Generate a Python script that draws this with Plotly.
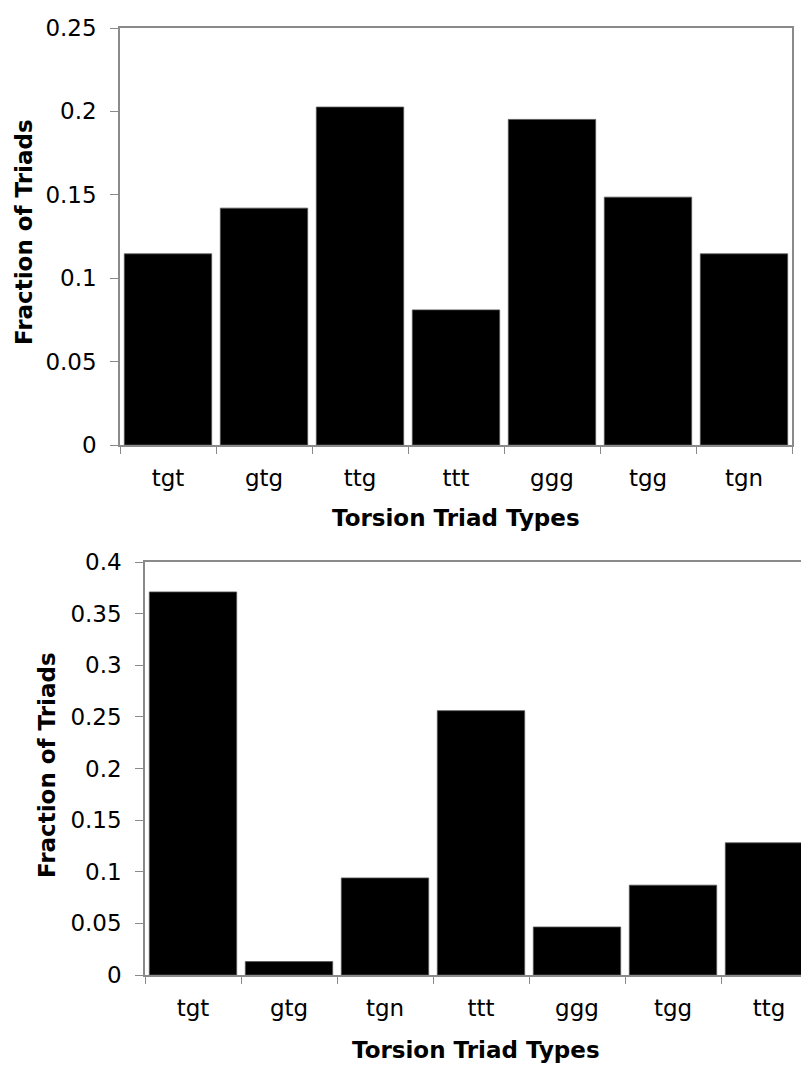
import plotly.graph_objects as go

# Data
cats_top = ["tgt", "gtg", "ttg", "ttt", "ggg", "tgg", "tgn"]
vals_top = [0.1146, 0.142, 0.2026, 0.081, 0.1952, 0.1486, 0.1146]

cats_bot = ["tgt", "gtg", "tgn", "ttt", "ggg", "tgg", "ttg"]
vals_bot = [0.371, 0.013, 0.094, 0.256, 0.0465, 0.087, 0.128]

y_title = "Fraction of Triads"
x_title = "Torsion Triad Types"

# the page body has an 8px default margin, so the figure is shifted by 8px
OFF = 8
W, H = 809 - OFF, 1066 - OFF
FONT = "DejaVu Sans"
AXC = "#8a8a8a"

def px_x(p):
    return (p - OFF) / W

def px_y(p):
    return 1 - (p - OFF) / H

fig = go.Figure()
fig.add_trace(go.Bar(x=cats_top, y=vals_top, marker=dict(color="black", line=dict(color="#555555", width=0.8)),
                     xaxis="x", yaxis="y", showlegend=False))
fig.add_trace(go.Bar(x=cats_bot, y=vals_bot, marker=dict(color="black", line=dict(color="#555555", width=0.8)),
                     xaxis="x2", yaxis="y2", showlegend=False))

tickfont = dict(family=FONT, size=23, color="black")

# Bottom plot: category width ~96 px, the plot is cut at the right edge
bot_left = 145
bot_span = (809 - bot_left) / 96.0

fig.update_layout(
    width=W, height=H,
    margin=dict(l=0, r=0, t=0, b=0),
    paper_bgcolor="white", plot_bgcolor="white",
    bargap=0.09,
    font=dict(family=FONT, color="black"),
    xaxis=dict(domain=[px_x(120), px_x(792)], anchor="y", type="category",
               range=[-0.5, 6.5], showline=True, linecolor=AXC, linewidth=1.5, mirror=True,
               ticks="outside", tickson="boundaries", ticklen=7, tickcolor=AXC,
               tickfont=tickfont, ticklabelstandoff=12, showgrid=False, zeroline=False,
               automargin=False),
    yaxis=dict(domain=[px_y(445), px_y(28)], anchor="x", range=[0, 0.25],
               tickvals=[0, 0.05, 0.1, 0.15, 0.2, 0.25],
               ticktext=["0", "0.05", "0.1", "0.15", "0.2", "0.25"],
               showline=True, linecolor=AXC, linewidth=1.5, mirror=True,
               ticks="outside", ticklen=8, tickcolor=AXC, tickfont=tickfont,
               ticklabelstandoff=9, showgrid=False, zeroline=False, automargin=False),
    xaxis2=dict(domain=[px_x(bot_left), 1], anchor="y2", type="category",
                range=[-0.5, -0.5 + bot_span], showline=True, linecolor=AXC, linewidth=1.5, mirror=True,
                ticks="outside", tickson="boundaries", ticklen=7, tickcolor=AXC,
                tickfont=tickfont, ticklabelstandoff=12, showgrid=False, zeroline=False,
                automargin=False),
    yaxis2=dict(domain=[px_y(975), px_y(562)], anchor="x2", range=[0, 0.4],
                tickvals=[0, 0.05, 0.1, 0.15, 0.2, 0.25, 0.3, 0.35, 0.4],
                ticktext=["0", "0.05", "0.1", "0.15", "0.2", "0.25", "0.3", "0.35", "0.4"],
                showline=True, linecolor=AXC, linewidth=1.5, mirror=False,
                ticks="outside", ticklen=8, tickcolor=AXC, tickfont=tickfont,
                ticklabelstandoff=9, showgrid=False, zeroline=False, automargin=False),
)

title_font = dict(family=FONT, size=23, color="black")
ann = [
    dict(text="<b>%s</b>" % y_title, x=px_x(24), y=px_y(232), textangle=-90),
    dict(text="<b>%s</b>" % x_title, x=px_x(456), y=px_y(518)),
    dict(text="<b>%s</b>" % y_title, x=px_x(47), y=px_y(765), textangle=-90),
    dict(text="<b>%s</b>" % x_title, x=px_x(476), y=px_y(1050)),
]
for a in ann:
    fig.add_annotation(xref="paper", yref="paper", showarrow=False, font=title_font,
                       xanchor="center", yanchor="middle", **a)

fig.write_html("out.html")
